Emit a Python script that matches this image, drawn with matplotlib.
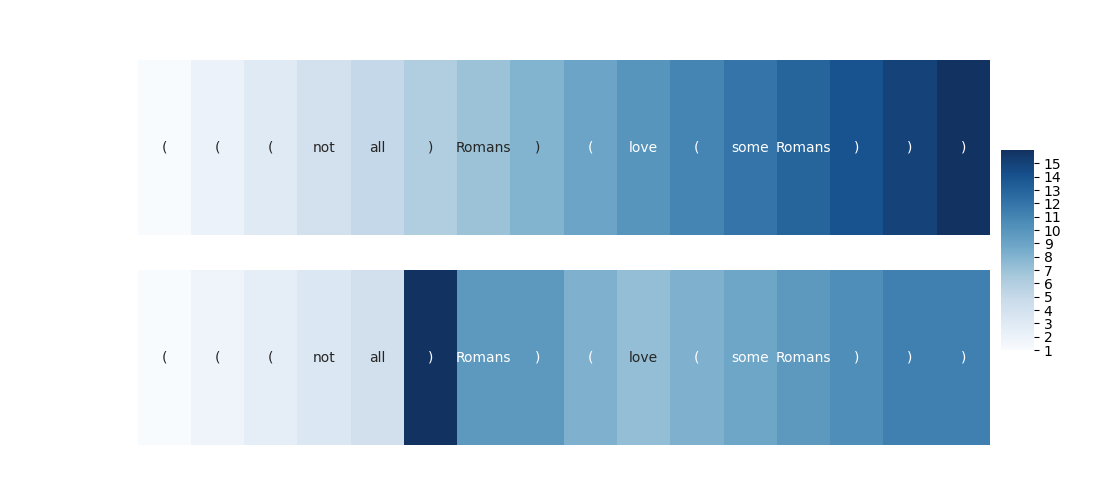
import matplotlib
matplotlib.use("Agg")
import matplotlib.pyplot as plt
from matplotlib.colors import ListedColormap
import seaborn as sns
import numpy as np

tokens = ["(", "(", "(", "not", "all", ")", "Romans", ")", "(", "love",
          "(", "some", "Romans", ")", ")", ")"]
top_values = [1, 2, 3, 4, 5, 6, 7, 8, 9, 10, 11, 12, 13, 14, 15, 16]
bottom_values = [1, 2, 3, 4, 5, 20, 12, 12, 10, 9, 10, 11, 12, 13, 14, 14]
cbar_ticks = list(range(1, 16))

base = plt.get_cmap("Blues")(np.linspace(0, 1, 256))
cmap = ListedColormap([sns.desaturate(c[:3], 0.8) for c in base])

fig, axes = plt.subplots(2, 1, figsize=(11, 5), dpi=100)
cbar_ax = fig.add_axes([0.91, 0.3, 0.03, 0.4])

annot = np.array([tokens])
sns.heatmap(np.array([top_values]), ax=axes[0], cmap=cmap, annot=annot, fmt="",
            xticklabels=False, yticklabels=False, cbar=True, cbar_ax=cbar_ax,
            cbar_kws={"ticks": cbar_ticks})
sns.heatmap(np.array([bottom_values]), ax=axes[1], cmap=cmap, annot=annot, fmt="",
            xticklabels=False, yticklabels=False, cbar=False)

fig.savefig("out.png", dpi=100)
